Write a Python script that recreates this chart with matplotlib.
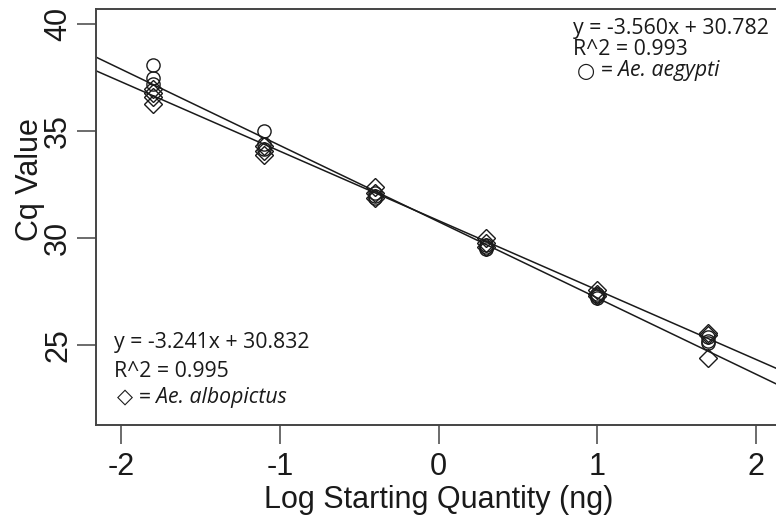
import matplotlib
matplotlib.use('Agg')
import matplotlib.pyplot as plt
import numpy as np

# log starting quantity (ng) of each dilution
conc = [-1.8, -1.1, -0.4, 0.3, 1.0, 1.7]
# Cq replicates
aegypti_cq = [[38.1, 37.5, 37.2], [35.0, 34.4, 34.2], [32.1, 32.0, 31.9],
              [29.7, 29.6, 29.5], [27.4, 27.3, 27.2], [25.4, 25.2, 25.1]]
albopictus_cq = [[37.0, 36.8, 36.6, 36.3], [34.3, 34.1, 33.9], [32.4, 32.1, 31.9],
                 [30.0, 29.8, 29.6], [27.6, 27.4, 27.3], [25.6, 25.5, 24.4]]
# fitted standard curves
aegypti_fit = (-3.560, 30.782, 0.993)
albopictus_fit = (-3.241, 30.832, 0.995)

xticks = [-2, -1, 0, 1, 2]
yticks = [25, 30, 35, 40]

plt.rcParams['font.family'] = ['Liberation Sans', 'DejaVu Sans']
ann_font = ['Open Sans', 'DejaVu Sans']
ink = '#1a1a1a'
frame = '#444444'

fig = plt.figure(figsize=(7.76, 5.21), dpi=100)
ax = fig.add_axes([96 / 776, 96 / 521, 685 / 776, 416 / 521])
ax.set_xlim(-2.16, 2.16)
ax.set_ylim(21.28, 40.72)

# points
for x, reps in zip(conc, albopictus_cq):
    ax.plot([x] * len(reps), reps, linestyle='none', marker='D', ms=9.5,
            mfc='none', mec=ink, mew=1.0, zorder=3)
for x, reps in zip(conc, aegypti_cq):
    ax.plot([x] * len(reps), reps, linestyle='none', marker='o', ms=9.5,
            mfc='none', mec=ink, mew=1.0, zorder=3)

# regression lines across the whole panel
xx = np.array(ax.get_xlim())
for slope, icpt, r2 in (aegypti_fit, albopictus_fit):
    ax.plot(xx, slope * xx + icpt, color=ink, lw=1.1, zorder=2)

ax.set_xticks(xticks)
ax.set_yticks(yticks)
ax.set_xticklabels([str(t) for t in xticks])
ax.set_yticklabels([str(t) for t in yticks], rotation=90, va='center')
ax.tick_params(axis='both', direction='out', length=13.5, width=1.1,
               color=frame, labelsize=22, labelcolor=ink)
ax.tick_params(axis='x', pad=6)
ax.tick_params(axis='y', pad=3)
for s in ax.spines.values():
    s.set_color(frame)
    s.set_linewidth(1.4)

ax.set_xlabel('Log Starting Quantity (ng)', fontsize=22, color=ink, va='center')
ax.set_ylabel('Cq Value', fontsize=22, color=ink, va='center')
ax.xaxis.set_label_coords(0.5, -0.18)
ax.yaxis.set_label_coords(-0.096, 0.589)

# equation boxes
def eq_block(x, ys, fit, sym, name):
    slope, icpt, r2 = fit
    ax.text(x, ys[0], 'y = %.3fx + %.3f' % (slope, icpt), family=ann_font,
            fontsize=15.3, color=ink, va='center')
    ax.text(x, ys[1], 'R^2 = %.3f' % r2, family=ann_font,
            fontsize=15.3, color=ink, va='center')
    t = ax.text(x + 0.02, ys[2], sym, family=['DejaVu Sans'],
                fontsize=15, color=ink, va='center')
    ax.annotate(' = ' + name, xy=(1, 0.5), xycoords=t,
                va='center', ha='left', family=ann_font, fontsize=15.3,
                style='italic', color=ink)

eq_block(0.85, [39.81, 38.81, 37.84], aegypti_fit, '○', 'Ae. aegypti')
eq_block(-2.048, [25.14, 23.79, 22.58], albopictus_fit, '◇', 'Ae. albopictus')

fig.savefig('out.png', dpi=100)
